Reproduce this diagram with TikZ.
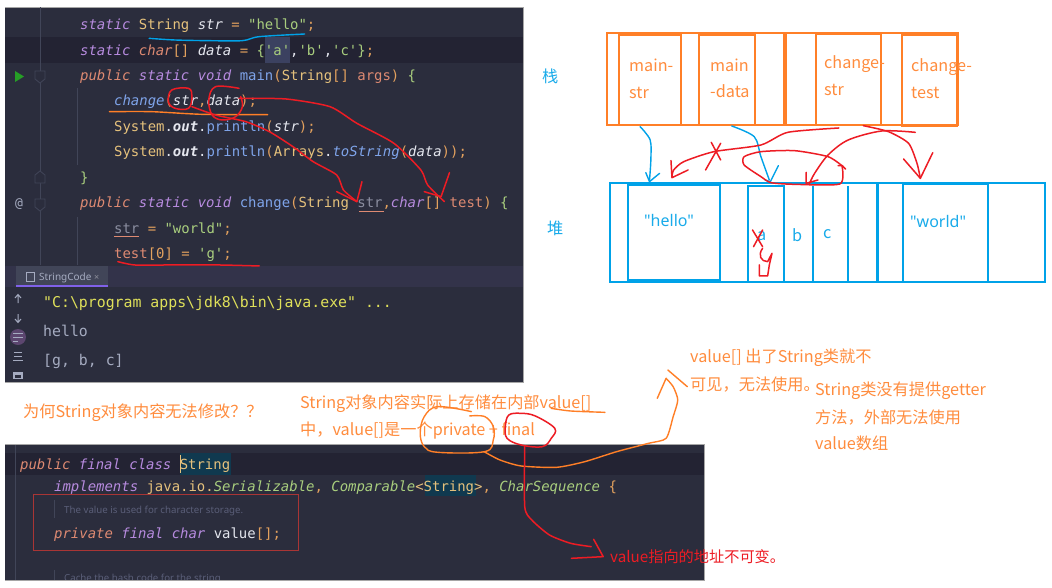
\documentclass[tikz,border=0pt]{standalone}
\usepackage{fontspec}
\setmainfont{Noto Sans CJK SC}
\newfontfamily\codefam{DejaVu Sans Mono}
\newfontfamily\uifam{Noto Sans}
\definecolor{panelbg}{HTML}{2B2D3D}
\definecolor{linebg}{HTML}{232333}
\definecolor{tabbg}{HTML}{33334A}
\definecolor{selbg}{HTML}{3B4160}
\definecolor{hlbg}{HTML}{10394F}
\definecolor{gutter}{HTML}{414558}
\definecolor{kwa}{HTML}{B78BDF}
\definecolor{kwb}{HTML}{DE8A72}
\definecolor{typ}{HTML}{E5C17C}
\definecolor{wht}{HTML}{E4E6EE}
\definecolor{grn}{HTML}{A9CE7E}
\definecolor{blu}{HTML}{7FA4EA}
\definecolor{ora}{HTML}{E3A15E}
\definecolor{yel}{HTML}{DFE05A}
\definecolor{gry}{HTML}{A5ABC0}
\definecolor{cmt}{HTML}{5A5E78}
\definecolor{pstack}{HTML}{FF7F27}
\definecolor{pheap}{HTML}{00A2E8}
\definecolor{pred}{HTML}{ED1C24}
\definecolor{boxred}{HTML}{A93535}
\newcommand\ka[1]{\textcolor{kwa}{\itshape #1}}
\newcommand\kb[1]{\textcolor{kwb}{\itshape #1}}
\newcommand\ty[1]{\textcolor{typ}{#1}}
\newcommand\wi[1]{\textcolor{wht}{\itshape #1}}
\newcommand\wh[1]{\textcolor{wht}{#1}}
\newcommand\gr[1]{\textcolor{grn}{#1}}
\newcommand\gi[1]{\textcolor{grn}{\itshape #1}}
\newcommand\bl[1]{\textcolor{blu}{#1}}
\newcommand\bi[1]{\textcolor{blu}{\itshape #1}}
\newcommand\oo[1]{\textcolor{ora}{#1}}
\newcommand\wb[1]{\textcolor{wht}{\bfseries\itshape #1}}
\tikzset{
  code/.style={anchor=base west,inner sep=0pt,font=\codefam\fontsize{13.95}{16}\selectfont,text=wht},
  cons/.style={code,text=gry,font=\codefam\fontsize{14.85}{17}\selectfont},
  cmtx/.style={anchor=base west,inner sep=0pt,font=\uifam\fontsize{9.7}{11}\selectfont,text=cmt},
  note/.style={anchor=base west,inner sep=0pt,font=\fontsize{16.2}{18}\selectfont,text=pstack!90!white},
  noteh/.style={note,text=pheap!90!white},
  quoted/.style={noteh,font=\uifam\fontsize{16}{18}\selectfont},
  noter/.style={note,text=pred,font=\fontsize{15.2}{18}\selectfont},
  stackbox/.style={draw=pstack,line width=2.6pt},
  heapbox/.style={draw=pheap,line width=2.8pt},
  rs/.style={draw=pred,line width=1.5pt,line join=round,line cap=round},
  os/.style={draw=pstack,line width=1.4pt,line join=round,line cap=round},
  bs/.style={draw=pheap,line width=1.4pt,line join=round,line cap=round},
  fold/.style={draw=gutter,fill=panelbg,line width=0.8pt},
}
\begin{document}
\begin{tikzpicture}[x=1pt,y=-1pt]
\useasboundingbox (0,0) rectangle (1052,587);
\fill[white] (0,0) rectangle (1052,587);
% ---------- top editor panel
\fill[panelbg] (5,7) rectangle (523,382);
\draw[gray!70,line width=.6pt] (5,7) -- (523,7) -- (523,382) -- (5,382);
\fill[linebg] (5,37) rectangle (523,63);
\fill[selbg] (265,37) rectangle (290,63);
\draw[gutter,line width=.7pt] (40,7) -- (40,265);
\draw[gutter,line width=.7pt] (77,88) -- (77,165) (77,217) -- (77,265);
\fill[fold] (35,71) -- (45,71) -- (45,79) -- (40,83) -- (35,79) -- cycle;
\fill[fold] (35,183) -- (45,183) -- (45,175) -- (40,171) -- (35,175) -- cycle;
\fill[fold] (35,199) -- (45,199) -- (45,207) -- (40,211) -- (35,207) -- cycle;
\fill[green!55!black!85!white] (15,71) -- (24,76.5) -- (15,82) -- cycle;
\node[code,text=gry,font=\codefam\fontsize{13}{16}\selectfont] (at) at (15,207) {@};
\node[code] (l1) at (80,29) {\ka{static} \ty{String} \wi{str} \oo{=} \gr{"hello"}\oo{;}};
\node[code] (l2) at (80,55) {\ka{static} \kb{char}\oo{[]} \wi{data} \oo{=} \gr{\{}\gr{'a'},\gr{'b'},\gr{'c'}\gr{\}}\oo{;}};
\node[code] (l3) at (80,80) {\kb{public} \ka{static} \ka{void} \bl{main}\oo{(}\ty{String}\oo{[]} \textcolor{kwb}{args}\oo{)} \gr{\{}};
\node[code] (l4) at (114,105) {\bi{change}\oo{(}\wi{str}\oo{,}\wi{data}\oo{);}};
\node[code] (l5) at (114,131) {\ty{System}.\wb{out}.\bl{println}\oo{(}\wi{str}\oo{);}};
\node[code] (l6) at (114,156) {\ty{System}.\wb{out}.\bl{println}\oo{(}\ty{Arrays}.\bi{toString}\oo{(}\wi{data}\oo{));}};
\node[code] (l7) at (80,182) {\gr{\}}};
\node[code] (l8) at (80,207) {\kb{public} \ka{static} \ka{void} \bl{change}\oo{(}\ty{String} \textcolor{cmt!70!white}{str}\oo{,}\ka{char}\oo{[]} \textcolor{kwb}{test}\oo{)} \gr{\{}};
\draw[kwb,line width=.5pt] (359,211) -- (384,211);
\node[code] (l9) at (114,233) {\textcolor{cmt!70!white}{str} \oo{=} \gr{"world"}\oo{;}};
\draw[kwb,line width=.5pt] (114,236) -- (139,236);
\node[code] (l10) at (114,258) {\textcolor{kwb}{test}\oo{[}\oo{0}\oo{]} \oo{=} \gr{'g'}\oo{;}};
% ---------- tab bar and console
\fill[tabbg] (5,266) rectangle (523,287);
\fill[gutter] (16,266) rectangle (108,285);
\fill[kwa!70!blue] (16,285) rectangle (108,287);
\draw[gry,line width=.7pt] (26,272) rectangle (34,281);
\node[anchor=base west,inner sep=0pt,font=\uifam\fontsize{10}{11}\selectfont,text=gry] (tab) at (39,280) {StringCode};
\node[anchor=base west,inner sep=0pt,font=\uifam\fontsize{9}{11}\selectfont,text=gutter!60!white] (tabx) at (94,280) {×};
\draw[gry,line width=1pt] (18,303) -- (18,295) (15,298) -- (18,294.5) -- (21,298);
\draw[gry,line width=1pt] (18,314) -- (18,322) (15,319) -- (18,322.5) -- (21,319);
\fill[kwa!50!black] (18,337) circle (8);
\draw[gry,line width=1pt] (13,333) -- (23,333) (13,337) -- (23,337) (13,341) -- (18,341);
\draw[gry,line width=1pt] (14,352) -- (22,352) (14,356) -- (22,356) (13,360) -- (23,360);
\fill[gry] (13,372) rectangle (23,379);
\fill[panelbg] (15,375) rectangle (21,378);
\node[cons,text=yel] (c1) at (43,307) {"C:\textbackslash program apps\textbackslash jdk8\textbackslash bin\textbackslash java.exe" ...};
\node[cons] (c2) at (43,336) {hello};
\node[cons] (c3) at (43,365) {[g, b, c]};
% ---------- bottom editor panel
\begin{scope}
\clip (5,444) rectangle (704,580);
\fill[panelbg] (5,444) rectangle (704,580);
\fill[linebg] (5,453) rectangle (704,475);
\fill[hlbg] (180,453) rectangle (231,475);
\fill[hlbg] (425,475) rectangle (476,496);
\draw[gutter,line width=.7pt] (15,444) -- (15,580);
\draw[typ,line width=.9pt] (180,455) -- (180,473);
\draw[gutter,line width=.9pt] (54,500) -- (54,518) (54,570) -- (54,580);
\node[code] (b1) at (20,469) {\kb{public} \ka{final} \ka{class} \ty{String}};
\node[code] (b2) at (54,491) {\ka{implements} \ty{java.io.}\gi{Serializable}\oo{,} \gi{Comparable}\ty{<String>}\oo{,} \gi{CharSequence} \oo{\{}};
\node[cmtx] (b3) at (64,513) {The value is used for character storage.};
\node[code] (b4) at (54,538) {\kb{private} \ka{final} \ka{char} \wh{value}\oo{[];}};
\node[cmtx] (b5) at (64,581) {Cache the hash code for the string};
\end{scope}
\draw[gray!70,line width=.6pt] (5,444) -- (704,444) -- (704,580) -- (5,580);
\draw[boxred,line width=.8pt] (33,494) rectangle (298,550);
% ---------- stack
\draw[stackbox] (607,33) rectangle (958,125);
\draw[stackbox,line width=2.8pt] (619,35) rectangle (681,125);
\draw[stackbox,line width=2.8pt] (699,35) rectangle (755,125);
\draw[stackbox,line width=3.4pt] (785,33) -- (785,125);
\draw[stackbox] (816,34) rectangle (881,125);
\draw[stackbox,line width=2.8pt] (902,35) rectangle (957,126);
\node[note] (s1a) at (629,71) {main-};
\node[note] (s1b) at (629,98) {str};
\node[note] (s2a) at (710,71) {main};
\node[note] (s2b) at (710,97) {-data};
\node[note] (s3a) at (824,68) {change-};
\node[note] (s3b) at (824,95) {str};
\node[note] (s4a) at (911,71) {change-};
\node[note] (s4b) at (911,98) {test};
\node[noteh] (zh) at (542,82) {栈};
\node[noteh] (dui) at (547,234) {堆};
% ---------- heap
\draw[heapbox] (610,183) rectangle (1045,282);
\draw[heapbox] (628,185) rectangle (720,280);
\draw[heapbox] (748,186) rectangle (784,282);
\draw[heapbox] (784,186) -- (784,282) (813,186) -- (813,282) (848,186) -- (848,282);
\draw[heapbox,line width=3pt] (877,183) -- (877,282);
\draw[heapbox] (903,184) rectangle (988,282);
\node[quoted] (h1) at (644,226) {"hello"};
\node[noteh] (ha) at (757,240) {a};
\node[noteh] (hb) at (792,241) {b};
\node[noteh] (hc) at (823,238) {c};
\node[quoted] (h2) at (910,227) {"world"};
% ---------- annotations
\node[note] (q) at (23,417) {为何String对象内容无法修改？？};
\node[note] (t1) at (300,408) {String对象内容实际上存储在内部value[]};
\node[note] (t2) at (300,435) {中，value[]是一个private + final};
\node[note] (r1) at (690,362) {value[] 出了String类就不};
\node[note] (r2) at (690,390) {可见，无法使用。};
\node[note] (r3) at (815,395) {String类没有提供getter};
\node[note] (r4) at (815,423) {方法，外部无法使用};
\node[note] (r5) at (815,449) {value数组};
\node[noter] (r6) at (610,562) {value指向的地址不可变。};
% ---------- strokes on the top panel
\begin{scope}[x=0.3367pt,y=-0.3333pt]
\draw[bs] plot[smooth,tension=.5] coordinates {(443,115)(520,120)(620,122)(720,122)(770,110)(905,102)};
\draw[os] plot[smooth,tension=.4] coordinates {(325,335)(450,335)(600,343)(795,344)};
\draw[rs] plot[smooth cycle,tension=.6] coordinates {(510,270)(500,305)(520,325)(560,325)(570,290)(560,265)};
\draw[rs] plot[smooth,tension=.6] coordinates {(710,265)(640,260)(620,300)(630,345)(660,360)(700,350)(720,320)(715,290)};
\draw[rs] plot[smooth,tension=.4] coordinates {(570,320)(640,345)(730,365)(800,395)(870,440)(930,485)(1000,525)(1020,570)(1060,605)};
\draw[rs] (1000,575) -- (1060,605) -- (1075,545);
\draw[rs] plot[smooth,tension=.4] coordinates {(710,295)(850,297)(980,320)(1060,370)(1170,430)(1250,510)(1270,555)(1320,605)};
\draw[rs] (1260,575) -- (1310,590) -- (1335,518);
\draw[rs] plot[smooth,tension=.4] coordinates {(350,785)(400,795)(500,795)(650,795)(770,798)};
\end{scope}
% ---------- strokes between stack and heap
\begin{scope}[shift={(526,0)},x=0.3356pt,y=-0.3333pt]
\draw[bs] plot[smooth,tension=.5] coordinates {(340,380)(370,420)(372,480)(368,540)};
\draw[bs] (357,518) -- (368,545) -- (398,520);
\draw[bs] plot[smooth,tension=.5] coordinates {(613,378)(680,410)(700,470)(725,540)};
\draw[bs] (712,540) -- (728,545) -- (752,497);
\draw[rs] plot[smooth,tension=.4] coordinates {(932,384)(780,397)(700,435)(560,455)(470,485)(440,510)(435,530)};
\draw[rs] (432,482) -- (435,533) -- (483,510);
\draw[rs] (552,427) -- (580,480) (580,430) -- (535,510);
\draw[rs] plot[smooth,tension=.5] coordinates {(1160,397)(1060,393)(960,420)(900,465)(860,520)(845,550)};
\draw[rs] (835,517) -- (835,550) -- (870,540);
\draw[rs] plot[smooth,tension=.4] coordinates {(1005,377)(1080,395)(1140,430)(1165,490)(1175,535)};
\draw[rs] (1125,477) -- (1175,535) -- (1212,458);
\draw[rs] plot[smooth,tension=.4] coordinates {(945,500)(900,470)(800,452)(700,455)(650,470)(650,495)(700,530)(730,548)(800,553)(935,552)(942,500)};
\draw[rs] (930,497) -- (942,497) -- (952,507);
\draw[rs] (675,690) -- (705,740) (705,690) -- (678,740);
\draw[rs] (705,745) .. controls (690,765) and (700,785) .. (720,785) -- (733,760) -- (725,795) -- (720,828) -- (695,828) -- (695,795);
\end{scope}
% ---------- strokes around the text
\begin{scope}[y=-0.3333pt,x=0.3367pt]
\draw[os] plot[smooth,tension=.6] coordinates {(1400,1235)(1300,1220)(1260,1250)(1248,1300)(1260,1340)(1300,1357)(1440,1355)(1465,1320)(1465,1280)(1440,1250)(1395,1248)};
\end{scope}
\begin{scope}[shift={(500,330)},x=0.3534pt,y=-0.3333pt]
\draw[os] plot[smooth,tension=.4] coordinates {(-45,365)(0,390)(60,408)(160,412)(240,395)(330,365)(420,340)(470,325)(490,260)(503,210)(490,170)(470,145)};
\draw[os] (445,205) -- (470,145);
\draw[os] (475,120) -- (530,170);
\draw[os] plot[smooth,tension=.4] coordinates {(145,235)(200,243)(297,247)};
\draw[rs] plot[smooth cycle,tension=.6] coordinates {(25,255)(60,250)(100,258)(155,295)(145,325)(120,350)(60,345)(20,325)(15,290)};
\draw[rs] plot[smooth,tension=.4] coordinates {(70,350)(70,530)(90,570)(140,615)(200,640)(258,650)};
\draw[rs] (265,628) -- (292,680) -- (202,685);
\end{scope}
\end{tikzpicture}
\end{document}
